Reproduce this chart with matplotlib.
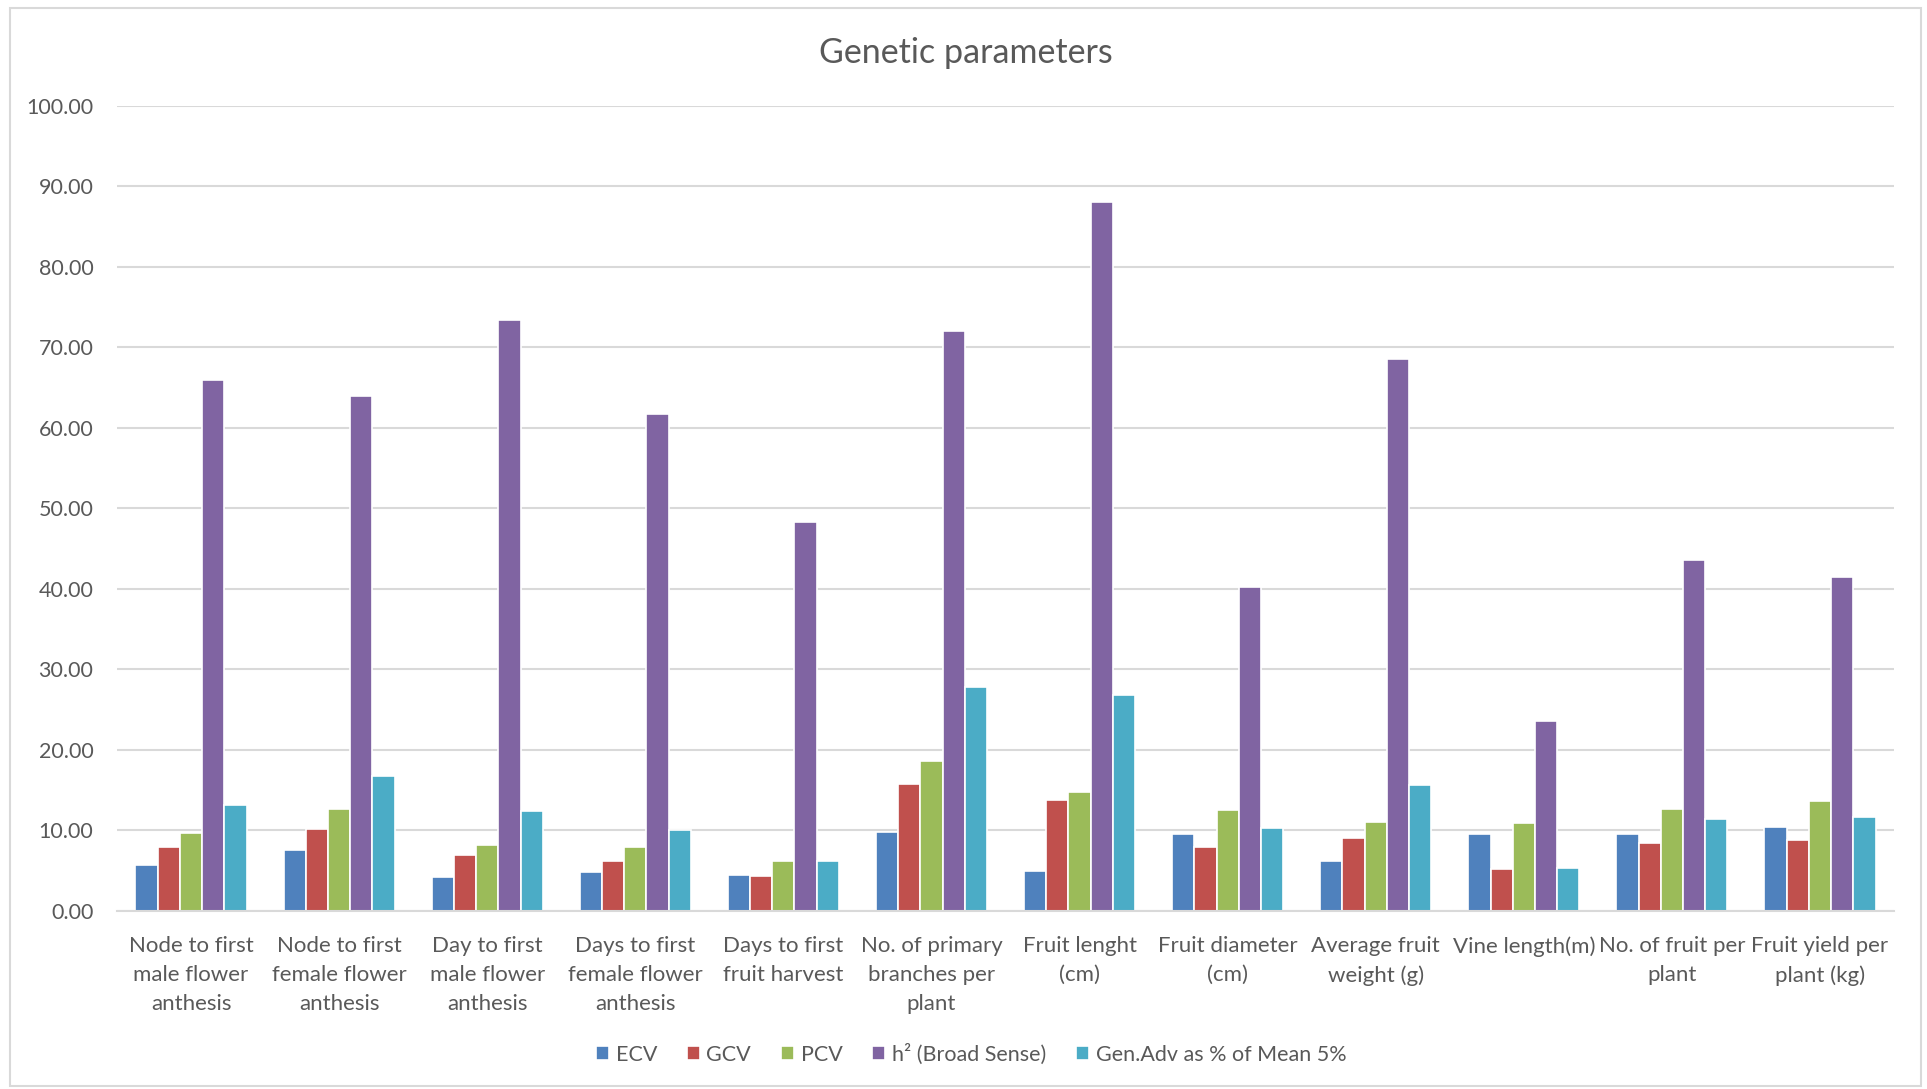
import numpy as np
import matplotlib.pyplot as plt
from matplotlib.patches import Rectangle

plt.rcParams['font.family'] = ['Lato', 'DejaVu Sans']

traits = ['Node to first\nmale flower\nanthesis', 'Node to first\nfemale flower\nanthesis',
          'Day to first\nmale flower\nanthesis', 'Days to first\nfemale flower\nanthesis',
          'Days to first\nfruit harvest', 'No. of primary\nbranches per\nplant',
          'Fruit lenght\n(cm)', 'Fruit diameter\n(cm)', 'Average fruit\nweight (g)',
          'Vine length(m)', 'No. of fruit per\nplant', 'Fruit yield per\nplant (kg)']

ecv = [5.66, 7.6, 4.2, 4.9, 4.5, 9.8, 5.0, 9.6, 6.2, 9.5, 9.5, 10.45]
gcv = [7.9, 10.17, 7.0, 6.2, 4.3, 15.8, 13.8, 7.9, 9.1, 5.25, 8.4, 8.8]
pcv = [9.7, 12.7, 8.2, 7.9, 6.2, 18.6, 14.75, 12.5, 11.1, 10.9, 12.7, 13.7]
h2 = [65.9, 64.0, 73.4, 61.7, 48.3, 72.1, 88.1, 40.3, 68.6, 23.6, 43.6, 41.5]
gen_adv = [13.2, 16.8, 12.4, 10.1, 6.2, 27.8, 26.8, 10.3, 15.7, 5.3, 11.4, 11.7]

series = [('ECV', ecv, '#4F81BD'), ('GCV', gcv, '#C0504D'), ('PCV', pcv, '#9BBB59'),
          ('h² (Broad Sense)', h2, '#8064A2'), ('Gen.Adv as % of Mean 5%', gen_adv, '#4BACC6')]

text_col = '#595959'
grid_col = '#D9D9D9'

fig = plt.figure(figsize=(19.27, 10.89), dpi=100)
ax = fig.add_axes([0.0607, 0.1635, 0.9222, 0.7392])

x = np.arange(len(traits))
w = 0.15
for i, (name, vals, col) in enumerate(series):
    ax.bar(x + (i - 2) * w, vals, w, color=col, edgecolor='white', linewidth=1.2,
           label=name, zorder=3)

ax.set_xlim(-0.5, len(traits) - 0.5)
ax.set_ylim(0, 100)
ax.set_yticks(np.arange(0, 101, 10))
ax.set_yticklabels(['%.2f' % v for v in np.arange(0, 101, 10)])
ax.set_xticks(x)
ax.set_xticklabels(traits, linespacing=1.55)
ax.grid(axis='y', color=grid_col, linewidth=1.5, zorder=0)
ax.tick_params(length=0, labelsize=15.5, colors=text_col)
ax.tick_params(axis='x', labelsize=16, pad=18)
ax.tick_params(axis='y', pad=17)
for s in ['top', 'right', 'left']:
    ax.spines[s].set_visible(False)
ax.spines['bottom'].set_color(grid_col)
ax.spines['bottom'].set_linewidth(1.5)
ax.spines['bottom'].set_zorder(4)

fig.text(0.501, 0.951, 'Genetic parameters', ha='center', va='center',
         fontsize=24.5, color=text_col)

fig.legend(loc='center', bbox_to_anchor=(0.504, 0.032), ncol=5, frameon=False,
           fontsize=15.5, labelcolor=text_col, handlelength=0.6, handleheight=0.6,
           handletextpad=0.3, columnspacing=1.4)

fig.patches.append(Rectangle((0.005, 0.003), 0.992, 0.99, transform=fig.transFigure,
                             fill=False, edgecolor=grid_col, linewidth=1.5))

fig.savefig('out.png', dpi=100, facecolor='white')
